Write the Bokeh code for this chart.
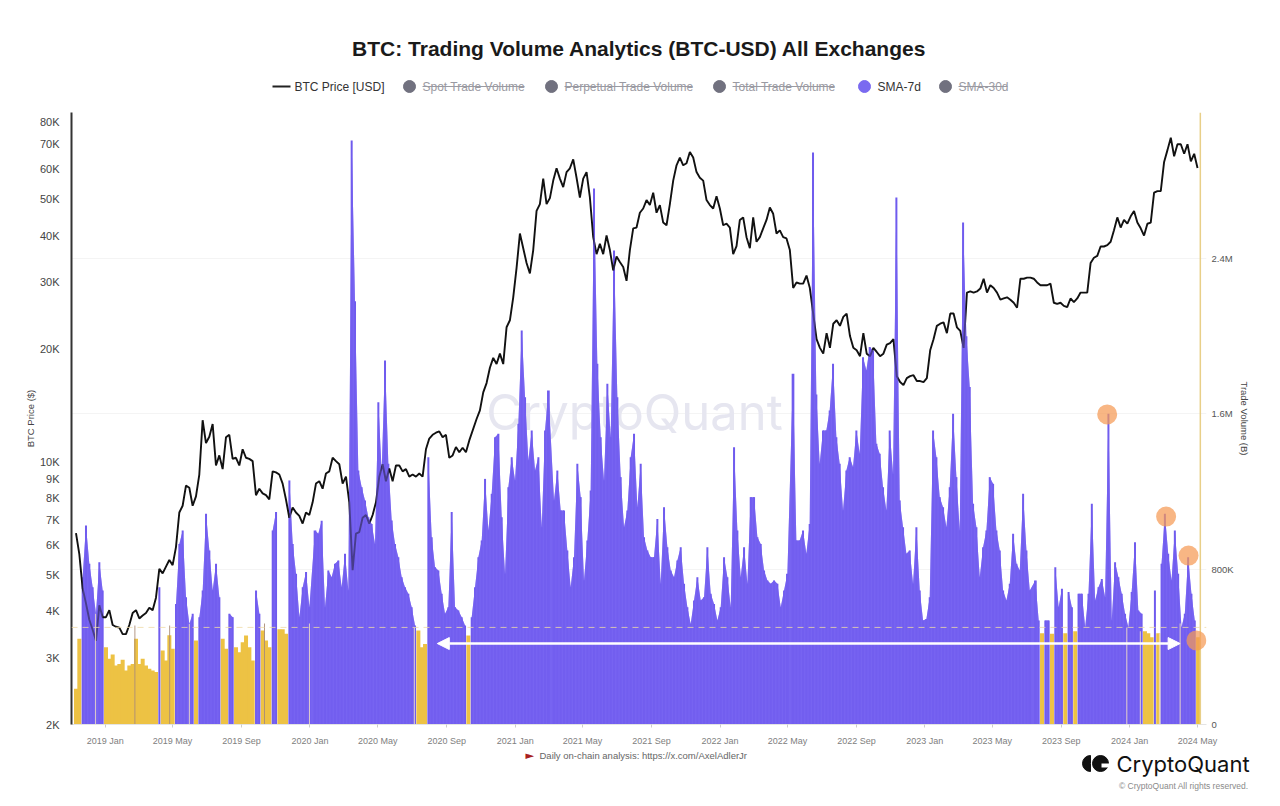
#! /usr/bin/env python3
# BTC trading volume (SMA-7d) against price, CryptoQuant style.

import numpy as np
import pandas as pd
from bokeh.embed import file_html
from bokeh.layouts import column
from bokeh.models import (
    Arrow,
    BoxAnnotation,
    FixedTicker,
    Label,
    LogAxis,
    LogScale,
    NormalHead,
    Range1d,
    Span,
)
from bokeh.plotting import figure
from bokeh.resources import INLINE

# SMA-7d trade volume in thousands in five stretches
vol_a = [184, 441, 759, 1025, 828, 707, 570, 836, 690, 398, 338, 360, 304, 312, 333, 278, 304, 312,
         441, 312, 338, 304, 287, 278, 270, 707, 381, 330, 460, 390, 621, 930, 999, 656, 518, 570,
         433, 553, 690, 1085, 896, 690, 828, 656, 441, 390, 570, 553, 398, 372, 424, 458, 398, 330,
         690, 570, 484, 433, 398, 999, 1094, 490, 490, 467, 1257, 930, 776, 553, 707, 785, 604]
vol_b = [999, 982, 1050, 604, 793, 759, 828, 845, 707, 879, 690, 3008, 2180, 1308, 1222, 1154, 1068,
         1033, 930, 1660, 1300, 1875, 1343, 1051, 930, 862, 759, 707, 673, 604, 510, 484, 398, 415,
         1377, 965, 810, 793, 673, 570, 604, 1094, 604, 587, 553, 510, 458, 553, 707, 862, 948, 1265,
         999, 1188, 1480, 1497, 1068, 776, 1222, 1377, 1257, 1549, 2029, 1686, 1360, 1514, 1308, 1377,
         1016, 1514, 1720]
vol_c = [1154, 1308, 1102, 1102, 896, 707, 862, 1343, 1171, 742, 948, 1205, 2760, 1858, 1480, 1257,
         1755, 1480, 2441, 1686, 1274, 1016, 1102, 1377, 1497, 1119, 1343, 965, 896, 862, 862, 1059,
         725, 1119, 913, 793, 759, 845, 913, 725, 604, 518, 639, 759, 639, 656, 913, 673, 621, 536,
         604, 862, 759, 604, 1428, 999, 759, 913, 725, 1171, 1171, 965, 930, 793, 742, 725, 742, 725,
         604, 690, 776]
vol_d = [1806, 948, 948, 999, 879, 1033, 2946, 1700, 1343, 1514, 1514, 1617, 1858, 1480, 1343, 1102,
         1308, 1377, 1326, 1514, 1394, 1892, 1823, 1944, 1926, 1446, 1394, 1222, 1102, 1514, 1291, 2714,
         1154, 1016, 879, 896, 725, 1016, 690, 536, 544, 656, 1514, 1377, 1171, 1119, 1016, 1222, 1600,
         1274, 999, 2585, 2000, 1738, 1137, 1016, 759, 913, 999, 1274, 1240, 999, 896, 690, 639, 725,
         982, 828, 793, 1188, 896, 690]
vol_e = [742, 536, 470, 536, 536, 467, 810, 604, 699, 470, 682, 604, 480, 673, 673, 501, 673, 1137,
         639, 707, 750, 656, 1600, 536, 836, 759, 673, 570, 501, 682, 939, 587, 570, 480, 470, 450,
         690, 470, 828, 1085, 879, 742, 999, 776, 500, 570, 862, 673, 536, 450]

# BTC close in USD, three stretches and the last close
price_a = [6460, 5680, 4600, 4200, 3800, 3575, 3340, 4150, 3860, 3860, 4030, 3680, 3640, 3620, 3480, 3480,
           3680, 3960, 4030, 3830, 3900, 3960, 4090, 4030, 4350, 5190, 5050, 5260, 5480, 5310, 5930, 7330,
           7640, 8640, 8530, 7640, 8090, 9250, 12900, 11220, 11660, 12600, 9780, 10400, 9560, 11620, 11800,
           10180, 10250, 9780, 10800, 10250, 10180, 10040, 8150, 8480, 8240, 8150, 7940, 9430, 9370, 9250,
           8750, 7940, 7100, 7560, 7330, 7180, 6850, 7330, 7220, 7800, 8750, 8880, 8480, 9310, 9430, 10250,
           10040, 9850, 8750, 9130, 7800, 5150, 6440, 6500, 7100, 7220, 6850, 7220, 7800, 9130, 9850, 8880,
           9600, 8880, 9780, 9780, 9430, 9560, 9130, 9250, 9130, 9310, 9130, 10800, 11530, 11800, 11950,
           12050, 11620, 11800, 10250, 10400, 10950, 10600, 10900, 10600, 11400]
price_b = [13000, 13700, 15300, 16200, 17800, 18900, 18200, 19400, 18200, 22800, 23800, 27400, 32800, 40500,
           37000, 33800, 31700, 36600, 46500, 48500, 56700, 48500, 50300, 56000, 60400, 56700, 53800, 59000,
           60400, 63800, 57000, 50500, 56700, 59000, 50500, 39600, 35700, 38000, 35700, 40000, 36600, 32300,
           35200, 34000, 33000, 30300, 36600, 41800, 42000, 46000, 47200, 49700, 48200, 52000, 46000, 48200,
           43300, 42600, 48500, 56000, 61500, 64500, 61500, 62300, 66700, 64500, 59000, 57000, 56000, 49700,
           48200, 47200, 50900, 47200, 42600, 43000, 42000, 35700, 37500, 44000, 44700, 39600, 37000, 44700,
           38500, 39600, 41800, 44000, 47500, 45700, 40500, 41300, 39600, 39300, 36600, 29000, 30000, 29800,
           29800, 31300, 29000]
price_c = [21200, 20100, 19400, 22000, 20100, 23300, 23800, 23000, 24300, 24800, 21600, 20100, 19800, 19100,
           22000, 19400, 19100, 20100, 19600, 19100, 19400, 20500, 20700, 21200, 16900, 16300, 16000, 16700,
           16900, 17000, 16400, 16400, 16300, 16700, 19800, 21200, 23000, 23300, 23500, 22000, 24800, 24800,
           22800, 22300, 20100, 28200, 28400, 28200, 28400, 28900, 30700, 28200, 29500, 29000, 28200, 27000,
           27200, 27400, 27000, 26500, 25700, 30700, 30700, 30900, 30900, 30700, 30000, 29500, 29500, 29500,
           29800, 26500, 26300, 26500, 26000, 25800, 27200, 26600, 27200, 28200, 28200, 28200, 33800, 34900,
           35300, 37400, 37400, 37700, 38500, 41300, 44700, 42000, 44000, 43000, 45000, 46500, 43300, 41800,
           40000, 43000, 43300, 52000, 52500, 52500, 62800, 67500, 72800, 65000, 70000, 70000, 66000, 70000,
           63000, 66000, 60500]

# one-day dips that fall between the sampled bars
dip_dates = ["2018-12-15", "2019-05-31", "2019-12-31", "2020-07-05", "2023-12-27", "2024-01-20",
             "2024-02-23", "2024-03-31"]
dip_values = [570, 518, 520, 500, 500, 480, 470, 520]
# one-day jumps over the yellow stretches
jump_dates = ["2019-02-23", "2019-04-26", "2019-10-12"]
jump_values = [510, 510, 520]

threshold = 500  # dashed line, bars under it are yellow

# orange call-outs
call_dates = ["2023-11-22", "2024-03-06", "2024-04-15", "2024-04-29"]
call_values = [1597, 1071, 870, 433]

month_ticks = ["2019-01-01", "2019-05-01", "2019-09-01", "2020-01-01", "2020-05-01", "2020-09-01",
               "2021-01-01", "2021-05-01", "2021-09-01", "2022-01-01", "2022-05-01", "2022-09-01",
               "2023-01-01", "2023-05-01", "2023-09-01", "2024-01-01", "2024-05-01"]
price_ticks = [2000, 3000, 4000, 5000, 6000, 7000, 8000, 9000, 10000, 20000, 30000, 40000, 50000, 60000,
               70000, 80000]
vol_ticks = [0, 800000, 1600000, 2400000]
vol_tick_labels = ["0", "800K", "1.6M", "2.4M"]

PURPLE = "#7460f0"
YELLOW = "#edc244"
SANS = "Liberation Sans"
DAY = 86400000


def ms(d):
    return pd.Timestamp(d).timestamp() * 1000


def stretch(start, end, n):
    return np.linspace(ms(start), ms(end), n)


vol_dates = np.concatenate(
    [
        stretch("2018-11-10", "2019-12-31", len(vol_a)),
        stretch("2020-01-10", "2021-03-01", len(vol_b)),
        stretch("2021-03-11", "2022-05-01", len(vol_c)),
        stretch("2022-05-11", "2023-07-07", len(vol_d)),
        stretch("2023-07-17", "2024-05-02", len(vol_e)),
    ]
)
volume = np.array(vol_a + vol_b + vol_c + vol_d + vol_e) * 1000.0
bar_widths = np.gradient(vol_dates)
low = volume < threshold * 1000

price_dates = np.concatenate(
    [
        stretch("2018-11-10", "2020-10-11", len(price_a)),
        stretch("2020-10-24", "2022-06-10", len(price_b)),
        stretch("2022-06-22", "2024-05-01", len(price_c)),
    ]
)
price = price_a + price_b + price_c

p = figure(
    width=1280,
    height=650,
    x_axis_type="datetime",
    x_range=Range1d(ms("2018-11-02"), ms("2024-05-17")),
    y_range=Range1d(0, 3152000),
    y_axis_location="right",
    output_backend="svg",
    toolbar_location=None,
    min_border_left=71,
    min_border_right=74,
    min_border_top=12,
    min_border_bottom=26,
    outline_line_color=None,
    frame_align=False,
)
p.extra_y_ranges = {"price": Range1d(2000, 85000)}
p.extra_y_scales = {"price": LogScale()}

p.xgrid.visible = False
p.ygrid.grid_line_color = "#f4f4f4"
p.ygrid.ticker = FixedTicker(ticks=vol_ticks)

# axes
xaxis = p.xaxis[0]
xaxis.ticker = FixedTicker(ticks=[int(ms(d)) for d in month_ticks], minor_ticks=[])
xaxis.major_label_overrides = {
    int(ms(d)): pd.Timestamp(d).strftime("%Y %b") for d in month_ticks
}
xaxis.major_label_text_font = SANS
xaxis.major_label_text_font_size = "9px"
xaxis.major_label_text_color = "#808080"
xaxis.axis_line_color = "#e4e4e4"
xaxis.major_tick_line_color = "#cccccc"
xaxis.major_tick_in = 0
xaxis.major_tick_out = 3
xaxis.major_label_standoff = 8

vaxis = p.yaxis[0]
vaxis.ticker = FixedTicker(ticks=vol_ticks, minor_ticks=[])
vaxis.major_label_overrides = dict(zip(vol_ticks, vol_tick_labels))
vaxis.major_label_text_font = SANS
vaxis.major_label_text_font_size = "9.5px"
vaxis.major_label_text_color = "#555555"
vaxis.axis_line_color = None
vaxis.major_tick_line_color = None
vaxis.major_tick_in = 0
vaxis.major_tick_out = 0
vaxis.major_label_standoff = 5
vaxis.axis_label = "Trade Volume (B)"
vaxis.axis_label_text_font = SANS
vaxis.axis_label_text_font_style = "normal"
vaxis.axis_label_text_font_size = "9.5px"
vaxis.axis_label_text_color = "#444444"
vaxis.axis_label_standoff = 2

paxis = LogAxis(
    y_range_name="price",
    ticker=FixedTicker(ticks=price_ticks, minor_ticks=[]),
    major_label_overrides={t: f"{t // 1000}K" for t in price_ticks},
    major_label_text_font=SANS,
    major_label_text_font_size="11px",
    major_label_text_color="#444444",
    axis_line_color="#333333",
    axis_line_width=2,
    major_tick_line_color=None,
    minor_tick_line_color=None,
    major_tick_in=0,
    major_tick_out=0,
    major_label_standoff=12,
    axis_label="BTC Price ($)",
    axis_label_text_font=SANS,
    axis_label_text_font_style="normal",
    axis_label_text_font_size="9.5px",
    axis_label_text_color="#444444",
    axis_label_standoff=1,
)
p.add_layout(paxis, "left")


def put(f, s, x, y, size, color="#333333", font=SANS, style="normal", align="left", **kw):
    f.add_layout(
        Label(
            x=x,
            y=y,
            text=s,
            text_font=font,
            text_font_size=f"{size}px",
            text_font_style=style,
            text_color=color,
            text_align=align,
            text_baseline="middle",
            **kw,
        )
    )


p.add_layout(
    Label(
        x=634,
        y=412 - 100,
        x_units="canvas",
        y_units="canvas",
        text="CryptoQuant",
        text_font="Inter",
        text_font_size="49px",
        text_color="#e6e6f0",
        text_align="center",
        text_baseline="middle",
        level="underlay",
    )
)

# yellow under the threshold
p.vbar(vol_dates[low], bar_widths[low] * 1.2, volume[low], color=YELLOW, line_color=None)

# purple above it: one area per unbroken run, the sampled bars standing on it
above = np.flatnonzero(~low)
runs = np.split(above, np.flatnonzero(np.diff(above) > 1) + 1)
for run in runs:
    p.varea(vol_dates[run], 0, volume[run], color="#7b68f2")
p.vbar(vol_dates[~low], bar_widths[~low] * 0.6, volume[~low], color="#6f5bee", line_color=None)

p.line(price_dates, price, y_range_name="price", color="#111111", line_width=1.9)

# same area again over the line, so that it turns blue where it crosses it
for run in runs:
    p.varea(vol_dates[run], 0, volume[run], color=PURPLE, fill_alpha=0.55)

p.vbar(
    [ms(d) for d in dip_dates],
    top=[v * 1000 for v in dip_values],
    width=1.6 * DAY,
    color="#efdcc4",
    line_color=None,
)
p.vbar(
    [ms(d) for d in jump_dates],
    top=[v * 1000 for v in jump_values],
    width=1.6 * DAY,
    color="#ab8c78",
    line_color=None,
)

p.add_layout(
    Span(
        location=threshold * 1000,
        dimension="width",
        line_color="#efd9a6",
        line_alpha=0.8,
        line_dash=[6, 5],
        line_width=1,
        level="overlay",
    )
)
# the right axis line stands a little inside the frame
p.add_layout(
    Span(location=ms("2024-05-06"), dimension="height", line_color="#e8cf88", line_width=1.5)
)

p.add_layout(
    Arrow(
        x_start=ms("2020-08-15"),
        x_end=ms("2024-03-31"),
        y_start=417000,
        y_end=417000,
        line_color="white",
        line_width=2.5,
        start=NormalHead(size=12, fill_color="white", line_color="white"),
        end=NormalHead(size=12, fill_color="white", line_color="white"),
        level="overlay",
    )
)

day_r = 10 / 0.5612 * DAY
vol_r = 10 * 5151
for d, v in zip(call_dates, call_values):
    p.add_layout(
        BoxAnnotation(
            left=ms(d) - day_r,
            right=ms(d) + day_r,
            top=v * 1000 + vol_r,
            bottom=v * 1000 - vol_r,
            fill_color="#f59a55",
            fill_alpha=0.72,
            line_alpha=0,
            border_radius=10,
            level="overlay",
        )
    )


def strip(height, top):
    # a bare strip for the texts above and below the chart, in page pixels
    f = figure(
        width=1280,
        height=height,
        x_range=Range1d(0, 1280),
        y_range=Range1d(top + height, top),
        x_axis_location=None,
        y_axis_location=None,
        output_backend="svg",
        toolbar_location=None,
        min_border=0,
        outline_line_color=None,
        frame_align=False,
    )
    f.grid.visible = False
    return f


# title and legend
head = strip(100, 0)
put(head, "BTC: Trading Volume Analytics (BTC-USD) All Exchanges", 639, 48, 21,
    color="#1a1a1a", style="bold", align="center")
head.segment([272], [86], [290], [86], color="#222222", line_width=2)
put(head, "BTC Price [USD]", 294, 86, 12)
muted = [(409, 422, 524, "Spot Trade Volume"), (551, 564, 692, "Perpetual Trade Volume"),
         (719, 732, 834, "Total Trade Volume"), (945, 958, 1007, "SMA-30d")]
for dot, x0, x1, name in muted:
    head.scatter([dot], [86], size=12, color="#71717f")
    put(head, name, x0, 86, 12, color="#9a9aa2")
    head.segment([x0], [86], [x1], [86], color="#9a9aa2", line_width=1)
head.scatter([864], [86], size=12, color="#7a6af0")
put(head, "SMA-7d", 877, 86, 12)

# footer
foot = strip(56, 750)
put(foot, "\u25ba", 525, 755, 11, color="#a82020", font="DejaVu Sans")
put(foot, "Daily on-chain analysis: https://x.com/AxelAdlerJr", 539, 755, 9.5, color="#666666")
foot.wedge([1090], [763], radius=8, start_angle=np.pi / 2, end_angle=3 * np.pi / 2, color="#111111")
foot.scatter([1100], [763], size=16, color="#111111")
foot.quad(left=[1101], right=[1109], top=[763], bottom=[767], color="white", line_color=None)
put(foot, "CryptoQuant", 1116, 763, 22, color="#111111", font="Inter")
put(foot, "\u00a9 CryptoQuant All rights reserved.", 1248, 785, 8.5, color="#8a8a8a", align="right")

layout = column(head, p, foot, spacing=0)
open("out.html", "w").write(file_html(layout, INLINE))
